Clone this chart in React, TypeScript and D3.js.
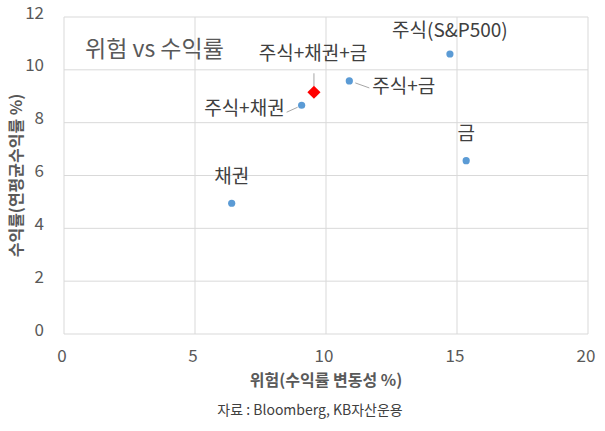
import React from "react";
import * as d3 from "d3";

const names = ["채권", "주식+채권", "주식+채권+금", "주식+금", "주식(S&P500)", "금"];
const risk = [6.4, 9.07, 9.54, 10.89, 14.73, 15.35];
const ret = [4.95, 8.66, 9.15, 9.58, 10.6, 6.56];
const highlight = [false, false, true, false, false, false];
const xTicks = [0, 5, 10, 15, 20];
const yTicks = [0, 2, 4, 6, 8, 10, 12];
const title = "위험 vs 수익률";
const xTitle = "위험(수익률 변동성 %)";
const yTitle = "수익률(연평균수익률 %)";
const source = "자료 : Bloomberg, KB자산운용";

// label layout (offsets from the point, in px)
const labelLayout: Record<string, { dx: number; dy: number; anchor: string; leader?: [number, number][] }> = {
  "채권": { dx: 0, dy: -25, anchor: "middle" },
  "주식+채권": { dx: -17, dy: 5, anchor: "end", leader: [[-4, 2], [-15, 7]] },
  "주식+채권+금": { dx: -1, dy: -37, anchor: "middle", leader: [[0, -6], [0, -19]] },
  "주식+금": { dx: 23, dy: 7, anchor: "start", leader: [[6, 2], [20, 7]] },
  "주식(S&P500)": { dx: 0, dy: -22, anchor: "middle" },
  "금": { dx: 0, dy: -26, anchor: "middle" },
};

const W = 605;
const H = 431;
const m = { left: 64, right: 588, top: 17, bottom: 334 };
const FONT = "'Noto Sans CJK KR', 'Noto Sans', sans-serif";

export default function App() {
  const x = d3.scaleLinear().domain([0, 20]).range([m.left, m.right]);
  const y = d3.scaleLinear().domain([0, 12]).range([m.bottom, m.top]);
  const line = d3.line<[number, number]>();
  const diamond = d3.symbol().type(d3.symbolDiamond2).size(110)() as string;

  return (
    <svg width={W} height={H} style={{ position: "absolute", left: 0, top: 0, background: "#fff" }} fontFamily={FONT}>
      {xTicks.map((t) => (
        <line key={"gx" + t} x1={x(t)} x2={x(t)} y1={m.top} y2={m.bottom} stroke="#d9d9d9" strokeWidth={1} />
      ))}
      {yTicks.map((t) => (
        <line key={"gy" + t} x1={m.left} x2={m.right} y1={y(t)} y2={y(t)} stroke="#d9d9d9" strokeWidth={1} />
      ))}
      {xTicks.map((t) => (
        <text key={"tx" + t} x={x(t) - 2} y={m.bottom + 28} textAnchor="middle" fontSize={17} fill="#595959">
          {t}
        </text>
      ))}
      {yTicks.map((t) => (
        <text key={"ty" + t} x={m.left - 20} y={y(t) - 3} textAnchor="end" dominantBaseline="middle" fontSize={17} fill="#595959">
          {t}
        </text>
      ))}
      <text x={85} y={51} fontSize={23} fill="#595959" dominantBaseline="middle">
        {title}
      </text>
      {names.map((n, i) => {
        const px = x(risk[i]);
        const py = y(ret[i]);
        const L = labelLayout[n];
        return (
          <g key={n}>
            {L.leader && (
              <path
                d={line(L.leader.map(([a, b]) => [px + a, py + b] as [number, number])) as string}
                fill="none"
                stroke="#a6a6a6"
                strokeWidth={1}
              />
            )}
            {highlight[i] ? (
              <path d={diamond} transform={`translate(${px},${py})`} fill="#ff0000" />
            ) : (
              <circle cx={px} cy={py} r={3.6} fill="#5b9bd5" />
            )}
            <text x={px + L.dx} y={py + L.dy} textAnchor={L.anchor as any} dominantBaseline="middle" fontSize={19} fill="#404040">
              {n}
            </text>
          </g>
        );
      })}
      <text x={(m.left + m.right) / 2} y={382} textAnchor="middle" dominantBaseline="middle" fontSize={16} fontWeight="bold" fill="#595959">
        {xTitle}
      </text>
      <text
        transform={`translate(18,${(m.top + m.bottom) / 2}) rotate(-90)`}
        textAnchor="middle"
        dominantBaseline="middle"
        fontSize={16}
        fontWeight="bold"
        fill="#595959"
      >
        {yTitle}
      </text>
      <text x={310} y={411} textAnchor="middle" dominantBaseline="middle" fontSize={14} fill="#404040">
        {source}
      </text>
    </svg>
  );
}
